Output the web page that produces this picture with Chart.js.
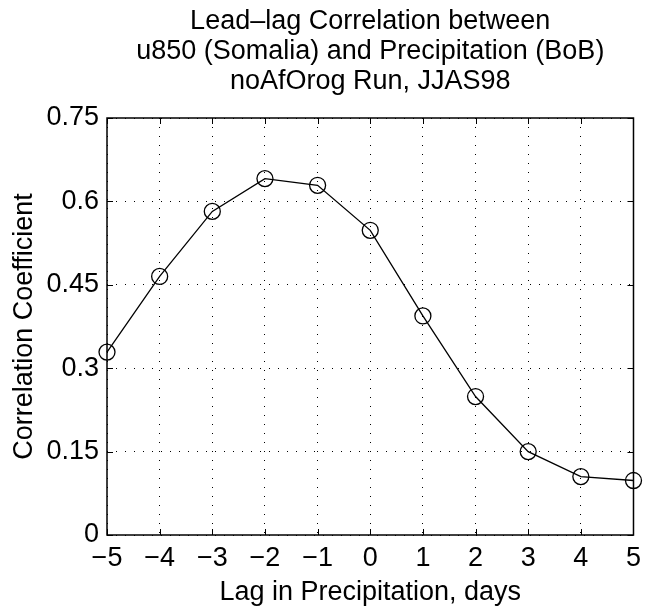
<!DOCTYPE html>
<html>
<head>
<meta charset="utf-8">
<script src="https://cdn.jsdelivr.net/npm/chart.js@4.4.1/dist/chart.umd.min.js"></script>
<style>
  html, body { margin: 0; padding: 0; background: #fff; }
  #wrap { width: 648px; height: 612px; position: relative; }
</style>
</head>
<body>
<div id="wrap"><canvas id="c" width="648" height="612"></canvas></div>
<script>
// ---- data ----
const lagDays = [-5, -4, -3, -2, -1, 0, 1, 2, 3, 4, 5];
const correlation = [0.329, 0.465, 0.582, 0.641, 0.629, 0.548, 0.394, 0.249, 0.150, 0.105, 0.098];
const xTickValues = [-5, -4, -3, -2, -1, 0, 1, 2, 3, 4, 5];
const xTickLabels = ['\u22125', '\u22124', '\u22123', '\u22122', '\u22121', '0', '1', '2', '3', '4', '5'];
const yTickValues = [0, 0.15, 0.3, 0.45, 0.6, 0.75];
const yTickLabels = ['0', '0.15', '0.3', '0.45', '0.6', '0.75'];
const titleLines = ['Lead\u2013lag Correlation between', 'u850 (Somalia) and Precipitation (BoB)', 'noAfOrog Run, JJAS98'];
const xTitle = 'Lag in Precipitation, days';
const yTitle = 'Correlation Coefficient';

const FONT = '"Liberation Sans", Arial, Helvetica, sans-serif';
const FS = 27;
const AREA = { left: 107, right: 637, top: 118, bottom: 535 };
const W = 648, H = 612;

function nearestLabel(values, labels, v) {
  for (let i = 0; i < values.length; i++) if (Math.abs(values[i] - v) < 1e-6) return labels[i];
  return '';
}

// box + inward tick marks
const frameTicks = {
  id: 'frameTicks',
  afterDatasetsDraw(chart) {
    const { ctx, chartArea: a, scales: { x, y } } = chart;
    ctx.save();
    ctx.strokeStyle = '#000';
    ctx.lineWidth = 1;
    const L = 6;
    ctx.beginPath();
    xTickValues.forEach(v => {
      const px = Math.round(x.getPixelForValue(v)) + 0.5;
      ctx.moveTo(px, a.bottom); ctx.lineTo(px, a.bottom - L);
      ctx.moveTo(px, a.top); ctx.lineTo(px, a.top + L);
    });
    yTickValues.forEach(v => {
      const py = Math.round(y.getPixelForValue(v)) + 0.5;
      ctx.moveTo(a.left, py); ctx.lineTo(a.left + L, py);
      ctx.moveTo(a.right, py); ctx.lineTo(a.right - L, py);
    });
    ctx.stroke();
    ctx.lineWidth = 1.5;
    ctx.strokeRect(a.left, a.top, a.right - a.left, a.bottom - a.top);
    ctx.restore();
  }
};

new Chart(document.getElementById('c'), {
  type: 'line',
  data: {
    datasets: [{
      data: lagDays.map((d, i) => ({ x: d, y: correlation[i] })),
      borderColor: '#000',
      borderWidth: 1.3,
      tension: 0,
      pointRadius: 8,
      pointHoverRadius: 8,
      pointBorderColor: '#000',
      pointBorderWidth: 1.3,
      pointBackgroundColor: 'rgba(0,0,0,0)',
      clip: false
    }]
  },
  options: {
    responsive: false,
    animation: false,
    devicePixelRatio: 1,
    layout: { padding: { left: 0, right: W - AREA.right, top: 0, bottom: 0 } },
    plugins: {
      legend: { display: false },
      tooltip: { enabled: false },
      title: {
        display: true,
        text: titleLines,
        color: '#000',
        fullSize: false,
        font: { family: FONT, size: FS, weight: 'normal', lineHeight: 30 / FS },
        padding: { top: 7, bottom: 21 }
      }
    },
    scales: {
      x: {
        type: 'linear',
        min: -5, max: 5,
        afterFit(s) { s.height = H - AREA.bottom; },
        afterBuildTicks(s) { s.ticks = xTickValues.map(v => ({ value: v })); },
        ticks: {
          color: '#000',
          font: { family: FONT, size: FS },
          padding: 7,
          maxRotation: 0,
          autoSkip: false,
          callback: v => nearestLabel(xTickValues, xTickLabels, v)
        },
        grid: { color: '#000', lineWidth: 1, drawTicks: false, tickLength: 0 },
        border: { display: false, dash: [1, 8] },
        title: { display: true, text: xTitle, color: '#000', font: { family: FONT, size: FS }, padding: { top: 0, bottom: 3 } }
      },
      y: {
        type: 'linear',
        min: 0, max: 0.75,
        afterFit(s) { s.width = AREA.left; },
        afterBuildTicks(s) { s.ticks = yTickValues.map(v => ({ value: v })); },
        ticks: {
          color: '#000',
          font: { family: FONT, size: FS },
          padding: 8,
          autoSkip: false,
          callback: v => nearestLabel(yTickValues, yTickLabels, v)
        },
        grid: { color: '#000', lineWidth: 1, drawTicks: false, tickLength: 0 },
        border: { display: false, dash: [1, 8] },
        title: { display: true, text: yTitle, color: '#000', font: { family: FONT, size: FS }, padding: { top: 8, bottom: 0 } }
      }
    }
  },
  plugins: [frameTicks]
});
</script>
</body>
</html>
